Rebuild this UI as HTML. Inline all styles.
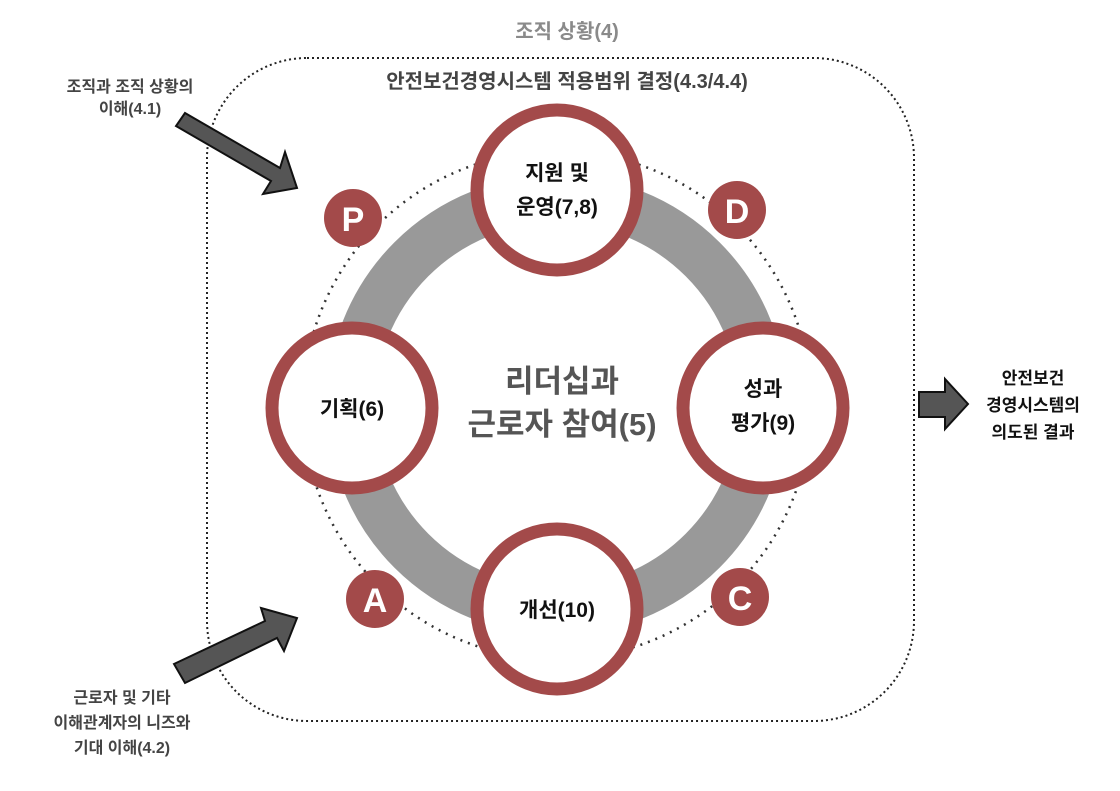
<!DOCTYPE html>
<html><head><meta charset="utf-8"><style>
body{margin:0;background:#fff;}
svg{display:block;}
text{font-family:"Liberation Sans","Noto Sans CJK KR",sans-serif;font-weight:bold;text-anchor:middle;}
</style></head><body>
<svg width="1120" height="791" viewBox="0 0 1120 791" xmlns="http://www.w3.org/2000/svg">
<rect x="207" y="58" width="707" height="663" rx="100" ry="100" fill="none" stroke="#222" stroke-width="2" stroke-dasharray="2,3"/>
<text x="567" y="38" font-size="20" fill="#8a8a8a">조직 상황(4)</text>
<text x="567" y="88" font-size="20" fill="#444">안전보건경영시스템 적용범위 결정(4.3/4.4)</text>
<circle cx="557" cy="405" r="254" fill="none" stroke="#333" stroke-width="2.5" stroke-dasharray="2,6"/>
<circle cx="557" cy="405" r="206" fill="none" stroke="#999" stroke-width="48"/>
<g fill="#fff" stroke="#a34a4a" stroke-width="13">
<circle cx="557" cy="190" r="80"/>
<circle cx="352" cy="408" r="80"/>
<circle cx="763" cy="408" r="80"/>
<circle cx="557" cy="609" r="80"/>
</g>
<g fill="#a34a4a">
<circle cx="353" cy="218" r="29"/>
<circle cx="375" cy="599" r="29"/>
<circle cx="737" cy="210" r="29"/>
<circle cx="740" cy="597" r="29"/>
</g>
<g font-size="34" fill="#fff">
<text x="353" y="231">P</text>
<text x="375" y="612">A</text>
<text x="737" y="223">D</text>
<text x="740" y="610">C</text>
</g>
<g font-size="21" fill="#111">
<text x="557" y="180">지원 및</text>
<text x="557" y="214">운영(7,8)</text>
<text x="352" y="416">기획(6)</text>
<text x="763" y="396">성과</text>
<text x="763" y="430">평가(9)</text>
<text x="557" y="617">개선(10)</text>
</g>
<g font-size="31" fill="#555">
<text x="562" y="392">리더십과</text>
<text x="562" y="435">근로자 참여(5)</text>
</g>
<g fill="#555" stroke="#111" stroke-width="2" stroke-linejoin="miter">
<polygon points="185,113 280,168 285,152 297,188 263,194 271,181 176,126"/>
<polygon points="174,664 265,621 261,608 297,618 284,651 277,638 185,683"/>
<polygon points="919,392 945,392 945,379 968,404 945,429 945,417 919,417"/>
</g>
<g font-size="16" fill="#444">
<text x="130" y="92">조직과 조직 상황의</text>
<text x="130" y="114">이해(4.1)</text>
<text x="122" y="703">근로자 및 기타</text>
<text x="122" y="728">이해관계자의 니즈와</text>
<text x="122" y="753">기대 이해(4.2)</text>
</g>
<g font-size="17" fill="#111">
<text x="1033" y="384">안전보건</text>
<text x="1033" y="411">경영시스템의</text>
<text x="1033" y="438">의도된 결과</text>
</g>
</svg>
</body></html>
